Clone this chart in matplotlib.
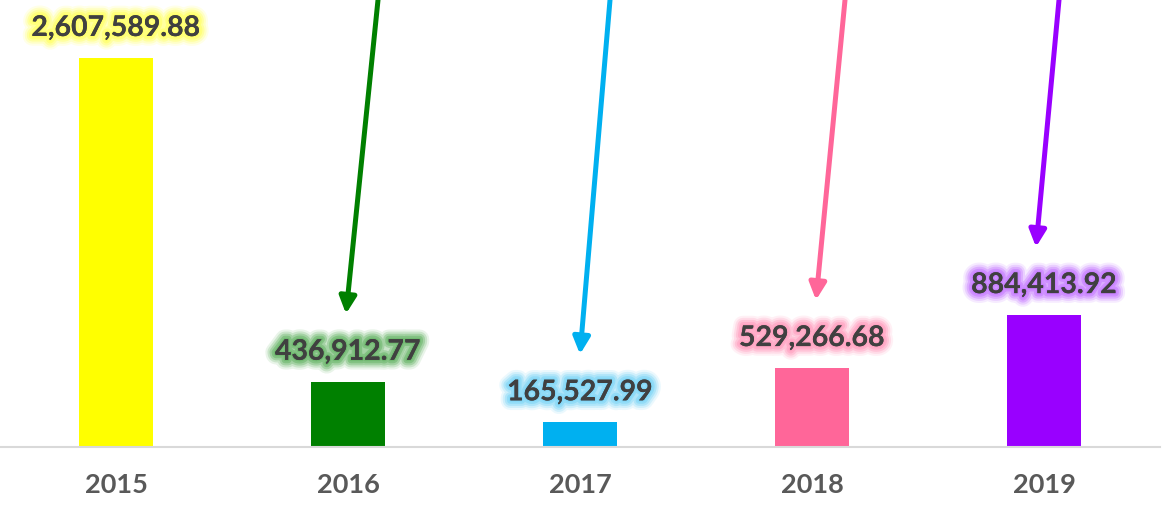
import matplotlib.pyplot as plt
import matplotlib.patheffects as pe
from matplotlib.transforms import offset_copy

years = ['2015', '2016', '2017', '2018', '2019']
values = [2607589.88, 436912.77, 165527.99, 529266.68, 884413.92]
bar_colors = ['#FFFF00', '#008000', '#00B0F0', '#FF6699', '#9900FF']
glow_colors = ['#FFFF66', '#6DB86D', '#7FD6F7', '#FFA0C0', '#C77DFF']

# arrow tweaks (pixels): tip x offset, tail x offset
arrow_tip_dx = [0, -2, 0, 4, -8]
arrow_tail_dx = [0, 32, 30, 29, 23]

W, H = 1166, 505
fig = plt.figure(figsize=(W / 100, H / 100), dpi=100)
ax = fig.add_axes([0, 58 / H, 1160 / W, 447 / H])

x = range(len(years))
ax.bar(x, values, width=0.315, color=bar_colors, zorder=2)
ax.set_xlim(-0.5, 4.5)
ax.set_ylim(0, values[0] * 447 / 389)

for s in ['top', 'left', 'right']:
    ax.spines[s].set_visible(False)
ax.spines['bottom'].set_color('#D9D9D9')
ax.spines['bottom'].set_linewidth(1.5)
ax.set_yticks([])
ax.set_xticks(list(x))
ax.set_xticklabels(years, fontsize=19.5, fontweight='bold', color='#595959', family='Lato')
ax.tick_params(axis='x', length=0, pad=19)

for i, v in enumerate(values):
    glow = [pe.withStroke(linewidth=lw, foreground=glow_colors[i], alpha=a)
            for lw, a in [(14, 0.15), (11, 0.25), (8, 0.4), (5, 0.6), (2, 0.8)]]
    ax.annotate(f'{v:,.2f}', xy=(i, v), xytext=(0, 30), textcoords='offset pixels',
                ha='center', va='center', fontsize=20.5, fontweight='bold',
                color='#404040', family='Lato', path_effects=glow + [pe.Normal()])
    if i == 0:
        continue
    tip = offset_copy(ax.transData, fig=fig, x=arrow_tip_dx[i], y=68, units='dots')
    tail = offset_copy(ax.get_xaxis_transform(), fig=fig, x=arrow_tip_dx[i] + arrow_tail_dx[i], y=0, units='dots')
    ax.annotate('', xy=(i, v), xycoords=tip, xytext=(i, 1), textcoords=tail,
                annotation_clip=False,
                arrowprops=dict(arrowstyle='-|>,head_length=1.0,head_width=0.5',
                                lw=3.6, color=bar_colors[i], shrinkA=0, shrinkB=0))

fig.savefig('out.png', dpi=100)
